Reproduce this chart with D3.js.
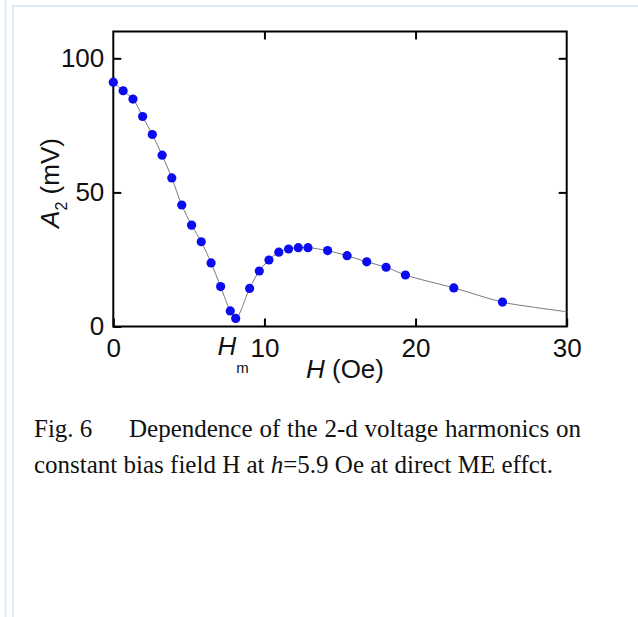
<!DOCTYPE html>
<html>
<head>
<meta charset="utf-8">
<script src="https://cdn.jsdelivr.net/npm/d3@7"></script>
<style>
  body { margin: 0; background: #fff; }
  svg { display: block; }
  .tick text { font-family: "Liberation Sans", Arial, sans-serif; font-size: 26px; fill: #111; }
</style>
</head>
<body>
<div id="chart"></div>
<script>
const fieldH = [0, 0.65, 1.3, 1.94, 2.58, 3.23, 3.87, 4.53, 5.18, 5.82, 6.47, 7.1, 7.74, 8.1,
  9.02, 9.66, 10.3, 10.95, 11.6, 12.24, 12.88, 14.18, 15.47, 16.77, 18.05, 19.33, 22.53, 25.75];
const ampA2 = [91.1, 87.9, 84.8, 78.3, 71.6, 63.9, 55.4, 45.3, 37.8, 31.6, 23.7, 14.9, 5.8, 3.0,
  14.2, 20.7, 24.8, 27.7, 28.9, 29.4, 29.4, 28.3, 26.4, 24.1, 22.1, 19.2, 14.4, 9.1];

// courbe grise (ajustement), prolongée jusqu'à 30 Oe
const fitH = fieldH.concat([27.8, 30]);
const fitA = ampA2.concat([7.2, 5.5]);

const xTicks = [0, 10, 20, 30];
const yTicks = [0, 50, 100];

const width = 638, height = 617;
const plotL = 113.3, plotR = 566.7, plotT = 31.5, plotB = 326.5;

const svg = d3.select('#chart').append('svg')
  .attr('width', width)
  .attr('height', height);

// cadre bleu clair de la page
const frame = '#d9ecf4';
svg.append('line').attr('x1', 5.5).attr('x2', 5.5).attr('y1', 0).attr('y2', height)
  .attr('stroke', frame).attr('stroke-width', 2);
svg.append('line').attr('x1', 13).attr('x2', 13).attr('y1', 5).attr('y2', height)
  .attr('stroke', frame).attr('stroke-width', 2);
svg.append('line').attr('x1', 12).attr('x2', width).attr('y1', 6).attr('y2', 6)
  .attr('stroke', frame).attr('stroke-width', 2);

const x = d3.scaleLinear().domain([0, 30]).range([plotL, plotR]);
const y = d3.scaleLinear().domain([0, 110]).range([plotB, plotT]);

// axes (ticks vers l'intérieur)
svg.append('g').attr('transform', `translate(0,${plotB})`)
  .call(d3.axisBottom(x).tickValues(xTicks).tickSizeInner(-8).tickSizeOuter(0).tickPadding(12));
svg.append('g').attr('transform', `translate(${plotL},0)`)
  .call(d3.axisLeft(y).tickValues(yTicks).tickSizeInner(-8).tickSizeOuter(0).tickPadding(9));
svg.append('g').attr('transform', `translate(0,${plotT})`)
  .call(d3.axisTop(x).tickValues([10, 20]).tickSizeInner(-8).tickSizeOuter(0).tickFormat(''));
svg.append('g').attr('transform', `translate(${plotR},0)`)
  .call(d3.axisRight(y).tickValues([50, 100]).tickSizeInner(-8).tickSizeOuter(0).tickFormat(''));

svg.selectAll('.domain').remove();
svg.selectAll('.tick line').attr('stroke', '#000').attr('stroke-width', 2);

svg.append('rect')
  .attr('x', plotL).attr('y', plotT)
  .attr('width', plotR - plotL).attr('height', plotB - plotT)
  .attr('fill', 'none').attr('stroke', '#000').attr('stroke-width', 2);

// courbe
const line = d3.line()
  .x((d, i) => x(fitH[i]))
  .y(d => y(d))
  .curve(d3.curveCatmullRom.alpha(0.5));

svg.append('path')
  .datum(fitA)
  .attr('d', line)
  .attr('fill', 'none')
  .attr('stroke', '#7a7a7a')
  .attr('stroke-width', 1);

// points
svg.append('g').selectAll('circle')
  .data(ampA2)
  .enter()
  .append('circle')
  .attr('cx', (d, i) => x(fieldH[i]))
  .attr('cy', d => y(d))
  .attr('r', 4.6)
  .attr('fill', '#0b0bf0');

const sans = '"Liberation Sans", Arial, sans-serif';

// annotation H_m
const hm = svg.append('text')
  .attr('x', x(6.9)).attr('y', 355)
  .style('font-family', sans).style('font-size', '26px').attr('fill', '#111');
hm.append('tspan').style('font-style', 'italic').text('H');
hm.append('tspan').attr('dy', 18).attr('dx', 0).style('font-size', '15px').text('m');

// titre axe x
const xt = svg.append('text')
  .attr('x', 345).attr('y', 378)
  .attr('text-anchor', 'middle')
  .style('font-family', sans).style('font-size', '26px').attr('fill', '#111');
xt.append('tspan').style('font-style', 'italic').text('H');
xt.append('tspan').text(' (Oe)');

// titre axe y
const yt = svg.append('text')
  .attr('transform', `translate(59,${(plotT + plotB) / 2 + 4}) rotate(-90)`)
  .attr('text-anchor', 'middle')
  .style('font-family', sans).style('font-size', '26px').attr('fill', '#111');
yt.append('tspan').style('font-style', 'italic').text('A');
yt.append('tspan').attr('dy', 8).style('font-size', '16px').text('2');
yt.append('tspan').attr('dy', -8).text(' (mV)');

// légende de la figure
const serif = '"Liberation Serif", "Times New Roman", serif';
const capSize = '25px';
const cap1 = svg.append('text')
  .attr('y', 437)
  .style('font-family', serif).style('font-size', capSize).attr('fill', '#111');
cap1.append('tspan').attr('x', 34).text('Fig. 6');
const rest = cap1.append('tspan').attr('x', 129)
  .text('Dependence of the 2-d voltage harmonics on');
// justification de la première ligne
const capRight = 581;
const natural = rest.node().getComputedTextLength();
const spaces = 6;
rest.attr('word-spacing', Math.max(0, (capRight - 129 - natural) / spaces));

const cap2 = svg.append('text')
  .attr('x', 34).attr('y', 473)
  .style('font-family', serif).style('font-size', capSize).attr('fill', '#111');
cap2.append('tspan').text('constant bias field H at ');
cap2.append('tspan').style('font-style', 'italic').text('h');
cap2.append('tspan').text('=5.9 Oe at direct ME effct.');
</script>
</body>
</html>
